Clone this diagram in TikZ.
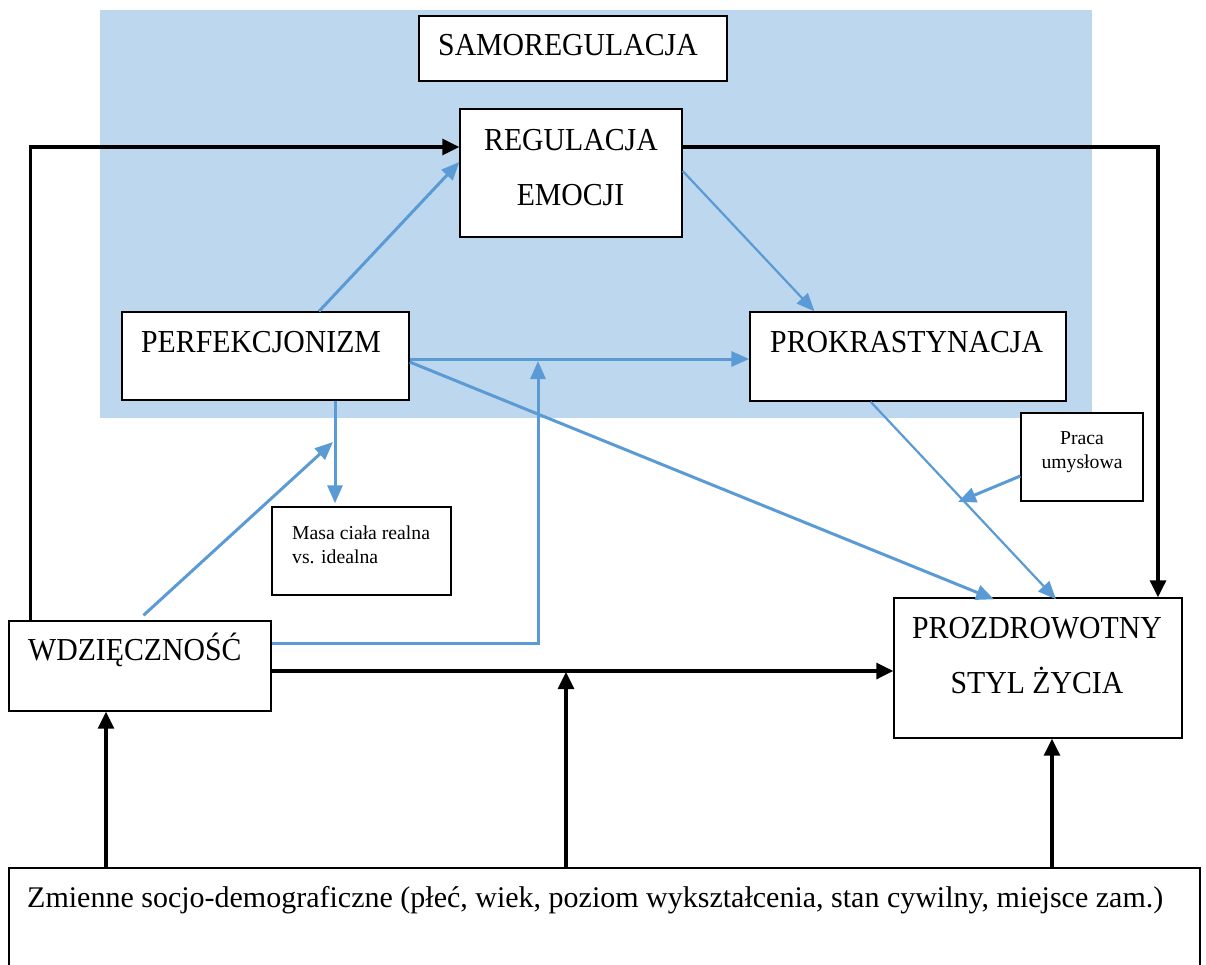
\documentclass[tikz,border=0pt]{standalone}
\usepackage{fontspec}
\setmainfont{Liberation Serif}
\newfontfamily\bigfont{Liberation Serif}[FakeStretch=0.93]
\usetikzlibrary{arrows.meta}
\definecolor{lineblue}{HTML}{5B9BD5}
\definecolor{fillblue}{HTML}{BDD7EE}
\tikzset{
  box/.style={draw=black, line width=1.4pt, fill=white, inner sep=0pt},
  bigtxt/.style={inner sep=0pt, font=\bigfont\fontsize{32}{38}\selectfont},
  smalltxt/.style={inner sep=0pt, font=\fontsize{19.7}{24}\selectfont},
  bottxt/.style={inner sep=0pt, font=\fontsize{30}{34}\selectfont},
  blk/.style={draw=black, line width=3.2pt, -{Triangle[length=17pt,width=16pt]}},
  blu/.style={draw=lineblue, line width=3pt, -{Triangle[length=18pt,width=15pt]}},
  bluthin/.style={draw=lineblue, line width=2.2pt, -{Triangle[length=18pt,width=15pt]}},
}
\begin{document}
\begin{tikzpicture}[x=1pt,y=-1pt]
\useasboundingbox (0,0) rectangle (1206,964);
\fill[white] (0,0) rectangle (1206,964);
% background region
\fill[fillblue] (100,10) rectangle (1092,418);

% boxes
\node[box, minimum width=308pt, minimum height=65pt] (samo) at (573,48.5) {};
\node[box, minimum width=222pt, minimum height=128pt] (reg) at (571,173) {};
\node[box, minimum width=287pt, minimum height=88pt] (perf) at (265.5,356) {};
\node[box, minimum width=316pt, minimum height=89pt] (prok) at (908,356.5) {};
\node[box, minimum width=179pt, minimum height=88pt] (masa) at (361.5,551) {};
\node[box, minimum width=122pt, minimum height=88pt] (praca) at (1082,457) {};
\node[box, minimum width=262pt, minimum height=90pt] (wdz) at (140,666) {};
\node[box, minimum width=288pt, minimum height=140pt] (proz) at (1038,668) {};
\node[box, minimum width=1191pt, minimum height=107pt] (bot) at (604.5,921.5) {};

% texts
\node[bigtxt, anchor=base west] (tsamo) at (438,55) {SAMOREGULACJA};
\node[bigtxt, anchor=base] (treg1) at (571,150) {REGULACJA};
\node[bigtxt, anchor=base] (treg2) at (570.5,205) {EMOCJI};
\node[bigtxt, anchor=base west] (tperf) at (141,352) {PERFEKCJONIZM};
\node[bigtxt, anchor=base west] (tprok) at (770,352) {PROKRASTYNACJA};
\node[smalltxt, anchor=base west] (tmasa1) at (292,539) {Masa ciała realna};
\node[smalltxt, anchor=base west] (tmasa2) at (292,563) {vs. idealna};
\node[smalltxt, anchor=base] (tpraca1) at (1082,444) {Praca};
\node[smalltxt, anchor=base] (tpraca2) at (1082,468) {umysłowa};
\node[bigtxt, anchor=base west] (twdz) at (28,660) {WDZIĘCZNOŚĆ};
\node[bigtxt, anchor=base] (tproz1) at (1037,638) {PROZDROWOTNY};
\node[bigtxt, anchor=base] (tproz2) at (1037,693) {STYL ŻYCIA};
\node[bottxt, anchor=base west] (tbot) at (27,907) {Zmienne socjo-demograficzne (płeć, wiek, poziom wykształcenia, stan cywilny, miejsce zam.)};

% junction coordinates
\coordinate (j1) at (538,361);
\coordinate (pmx) at (335,0);
\coordinate (j2) at (333,442);
\coordinate (j3) at (958,502);
\coordinate (j4) at (566,672);
\coordinate (c1) at (106,0);
\coordinate (c3) at (1052,0);

% black connectors
\draw[blk] (wdz.north west) ++(22,0) |- ([yshift=26pt]reg.west);
\draw[blk] ([yshift=26pt]reg.east) -| ([xshift=120pt]proz.north);
\draw[blk] ([yshift=-5pt]wdz.east) -- ([yshift=-5pt]wdz.east -| proz.west);
\draw[blk] (bot.north -| c1) -- (wdz.south -| c1);
\draw[blk] (bot.north -| j4) -- (j4);
\draw[blk] (bot.north -| c3) -- (proz.south -| c3);

% blue connectors
\draw[blu] ([xshift=53.5pt]perf.north) -- ([yshift=11pt]reg.west);
\draw[bluthin] ([yshift=2pt]reg.east) -- ([xshift=-93.5pt]prok.north);
\draw[blu] ([yshift=-3pt]perf.east) -- ([yshift=-3pt]perf.east -| prok.west);
\draw[blu] ([yshift=23pt]wdz.east) -| (j1);
\draw[blu] ([yshift=-6pt]perf.east) -- ([xshift=-44pt,yshift=-2pt]proz.north);
\draw[blu, shorten >=3pt] (perf.south -| pmx) -- (masa.north -| pmx);
\draw[blu] ([xshift=3.5pt,yshift=5pt]wdz.north) -- (j2);
\draw[bluthin] ([xshift=-37.4pt]prok.south) -- ([xshift=18pt,yshift=-2pt]proz.north);
\draw[blu] ([yshift=-19pt]praca.west) -- (j3);
\end{tikzpicture}
\end{document}
